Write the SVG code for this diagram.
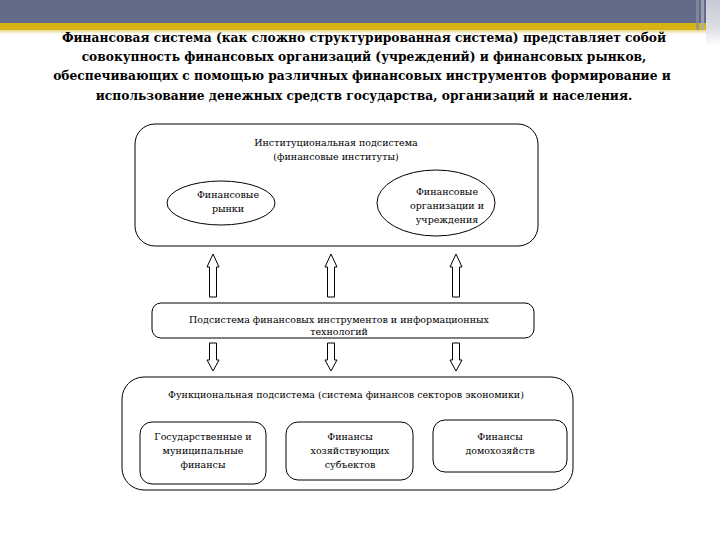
<svg xmlns="http://www.w3.org/2000/svg" width="720" height="540" viewBox="0 0 720 540">
<defs>
<linearGradient id="fade" x1="0" y1="0" x2="0" y2="1">
<stop offset="0" stop-color="#e6d680"/>
<stop offset="1" stop-color="#ffffff"/>
</linearGradient>
<linearGradient id="rfade" x1="0" y1="0" x2="0" y2="1">
<stop offset="0" stop-color="#c9cad6"/>
<stop offset="0.6" stop-color="#dddde6"/>
<stop offset="1" stop-color="#ffffff"/>
</linearGradient>
<style>
.title{font-family:"DejaVu Serif Condensed","DejaVu Serif",serif;font-stretch:condensed;font-weight:bold;font-size:13.6px;fill:#000;text-anchor:middle}
.t{font-family:"DejaVu Serif","Liberation Serif",serif;font-size:9.5px;fill:#000;text-anchor:middle}
.box{fill:#fff;stroke:#000;stroke-width:1}
.arr{fill:#fff;stroke:#000;stroke-width:1}
</style>
</defs>
<rect width="720" height="540" fill="#fff"/>
<g id="header">
<rect x="0" y="0" width="720" height="23" fill="#646b88"/>
<rect x="0" y="23" width="720" height="7" fill="#d5b317"/>
<rect x="0" y="30" width="720" height="4" fill="url(#fade)"/>
<rect x="706" y="0" width="14" height="46" fill="url(#rfade)"/>
<rect x="696" y="0" width="3" height="30" fill="#8a90a8" opacity="0.7"/>
<rect x="701" y="0" width="3" height="30" fill="#a9adc0" opacity="0.8"/>
</g>
<g id="title">
<text class="title" x="364" y="42">Финансовая система (как сложно структурированная система) представляет собой</text>
<text class="title" x="364" y="61">совокупность финансовых организаций (учреждений) и финансовых рынков,</text>
<text class="title" x="362" y="80">обеспечивающих с помощью различных финансовых инструментов формирование и</text>
<text class="title" x="364" y="100">использование денежных средств государства, организаций и населения.</text>
</g>
<g id="institutional">
<rect class="box" x="135" y="124" width="403" height="122" rx="20"/>
<text class="t" x="336" y="146">Институциональная подсистема</text>
<text class="t" x="336" y="160">(финансовые институты)</text>
</g>
<g id="markets">
<ellipse class="box" cx="221" cy="203" rx="54" ry="22"/>
<text class="t" x="228" y="198">Финансовые</text>
<text class="t" x="228" y="212">рынки</text>
</g>
<g id="organizations">
<ellipse class="box" cx="436" cy="203" rx="59" ry="33"/>
<text class="t" x="447" y="195">Финансовые</text>
<text class="t" x="447" y="209">организации и</text>
<text class="t" x="447" y="223">учреждения</text>
</g>
<g id="instruments">
<rect class="box" x="152" y="303" width="382" height="35" rx="9"/>
<text class="t" x="339" y="323">Подсистема финансовых инструментов и информационных</text>
<text class="t" x="339" y="335">технологий</text>
</g>
<g id="functional">
<rect class="box" x="122" y="377" width="451" height="113" rx="22"/>
<text class="t" x="346" y="398">Функциональная подсистема (система финансов секторов экономики)</text>
</g>
<g id="state">
<rect class="box" x="140" y="422" width="126" height="62" rx="12"/>
<text class="t" x="203" y="440">Государственные и</text>
<text class="t" x="203" y="454">муниципальные</text>
<text class="t" x="203" y="468">финансы</text>
</g>
<g id="business">
<rect class="box" x="286" y="422" width="127" height="58" rx="12"/>
<text class="t" x="350" y="440">Финансы</text>
<text class="t" x="350" y="454">хозяйствующих</text>
<text class="t" x="350" y="468">субъектов</text>
</g>
<g id="households">
<rect class="box" x="433" y="420" width="134" height="52" rx="12"/>
<text class="t" x="500" y="440">Финансы</text>
<text class="t" x="500" y="454">домохозяйств</text>
</g>
<g id="connectors">
<path class="arr" d="M213,254 L219,267 L216.5,267 L216.5,297 L209.5,297 L209.5,267 L207,267 Z"/>
<path class="arr" d="M331,254 L337,267 L334.5,267 L334.5,297 L327.5,297 L327.5,267 L325,267 Z"/>
<path class="arr" d="M456,254 L462,267 L459.5,267 L459.5,297 L452.5,297 L452.5,267 L450,267 Z"/>
<path class="arr" d="M209.5,343 L216.5,343 L216.5,360 L219,360 L213,371 L207,360 L209.5,360 Z"/>
<path class="arr" d="M327.5,343 L334.5,343 L334.5,360 L337,360 L331,371 L325,360 L327.5,360 Z"/>
<path class="arr" d="M452.5,343 L459.5,343 L459.5,360 L462,360 L456,371 L450,360 L452.5,360 Z"/>
</g>
</svg>
